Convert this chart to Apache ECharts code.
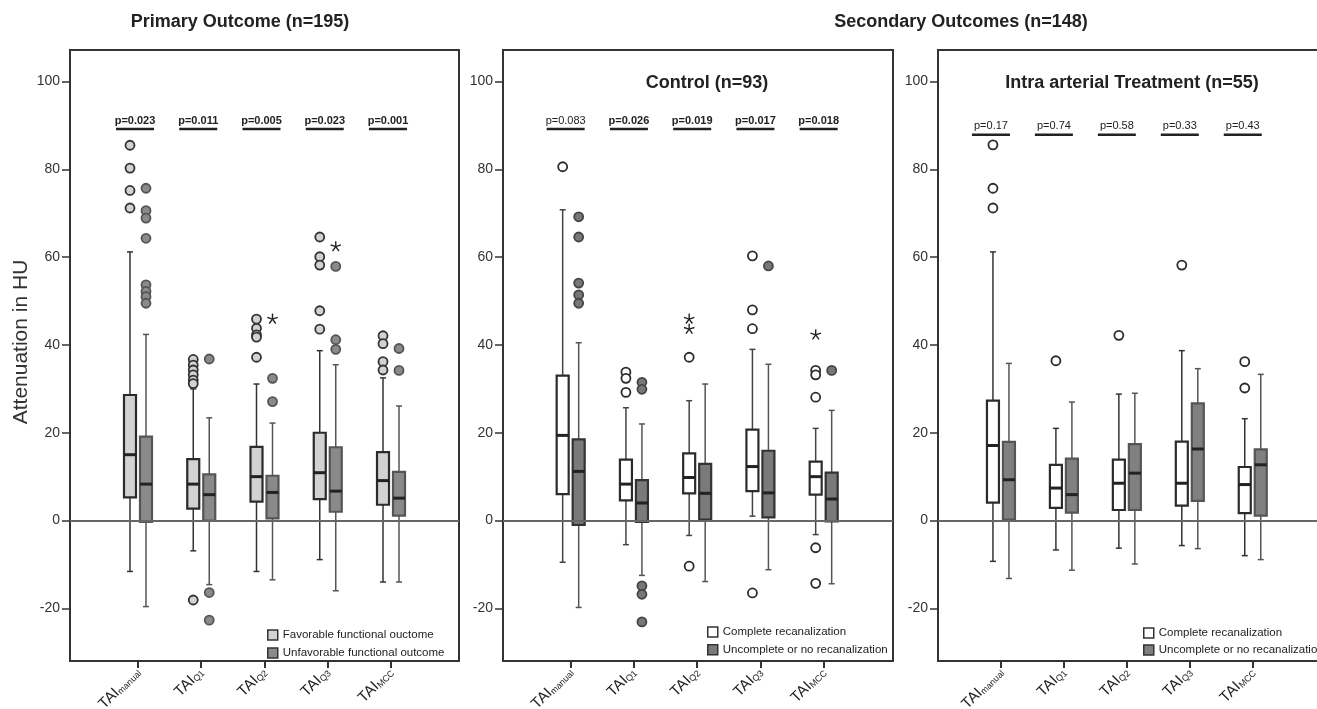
<!DOCTYPE html>
<html>
<head>
<meta charset="utf-8">
<title>TAI attenuation by outcome</title>
<script src="https://cdn.jsdelivr.net/npm/echarts@6/dist/echarts.min.js"></script>
<style>
  html, body { margin: 0; padding: 0; background: #fff; }
  #chart { width: 1317px; height: 709px; }
</style>
</head>
<body>
<div id="chart"></div>
<script>
const categories = ['manual', 'Q1', 'Q2', 'Q3', 'MCC'];
const yTicks = [-20, 0, 20, 40, 60, 80, 100];

// box rows: [lower whisker, Q1, median, Q3, upper whisker]
const primaryFavBox = [
  [-11.6, 5.3, 15.0, 28.6, 61.2],
  [-6.9, 2.7, 8.3, 14.0, 30.0],
  [-11.6, 4.3, 10.0, 16.8, 31.1],
  [-8.9, 4.9, 10.9, 20.0, 38.7],
  [-14.0, 3.6, 9.1, 15.6, 32.5]
];
const primaryUnfavBox = [
  [-19.6, -0.3, 8.3, 19.1, 42.4],
  [-14.6, 0.0, 5.9, 10.5, 23.4],
  [-13.5, 0.5, 6.4, 10.2, 22.2],
  [-16.0, 2.0, 6.7, 16.7, 35.5],
  [-14.0, 1.1, 5.1, 11.1, 26.1]
];
const primaryFavOutliers = [
  [85.5, 80.3, 75.2, 71.2],
  [36.7, 35.4, 34.3, 33.2, 32.0, 31.2, -18.1],
  [45.9, 43.8, 42.3, 41.8, 37.2],
  [64.6, 60.1, 58.2, 47.8, 43.6],
  [42.1, 40.3, 36.2, 34.3]
];
const primaryUnfavOutliers = [
  [75.7, 70.6, 68.9, 64.3, 53.7, 52.2, 51.0, 49.5],
  [36.8, -16.4, -22.7],
  [32.4, 27.1],
  [57.9, 41.2, 39.0],
  [39.2, 34.2]
];
const primaryFavExtremes = [[], [], [], [], []];
const primaryUnfavExtremes = [[], [], [45.9], [62.4], []];
const primaryP = [0.023, 0.011, 0.005, 0.023, 0.001];

const controlFavBox = [
  [-9.5, 6.0, 19.4, 33.0, 70.8],
  [-5.5, 4.6, 8.3, 13.9, 25.7],
  [-3.4, 6.2, 9.8, 15.3, 27.3],
  [1.0, 6.7, 12.3, 20.7, 39.0],
  [-3.2, 5.9, 10.0, 13.4, 21.0]
];
const controlUnfavBox = [
  [-19.8, -1.0, 11.2, 18.5, 40.5],
  [-12.5, -0.3, 4.0, 9.2, 22.0],
  [-13.9, 0.2, 6.2, 12.9, 31.1],
  [-11.2, 0.7, 6.3, 15.9, 35.6],
  [-14.4, -0.2, 4.9, 10.9, 25.1]
];
const controlFavOutliers = [
  [80.6],
  [33.8, 32.4, 29.2],
  [37.2, -10.4],
  [60.3, 48.0, 43.7, -16.5],
  [34.2, 33.2, 28.1, -6.2, -14.3]
];
const controlUnfavOutliers = [
  [69.2, 64.6, 54.1, 51.4, 49.5],
  [31.5, 29.9, -14.9, -16.8, -23.1],
  [],
  [58.0],
  [34.2]
];
const controlFavExtremes = [[], [], [45.9, 43.6], [], [42.3]];
const controlUnfavExtremes = [[], [], [], [], []];
const controlP = [0.083, 0.026, 0.019, 0.017, 0.018];

const iatFavBox = [
  [-9.3, 4.1, 17.1, 27.3, 61.2],
  [-6.7, 2.9, 7.4, 12.7, 21.0],
  [-6.3, 2.4, 8.5, 13.9, 28.8],
  [-5.7, 3.4, 8.5, 18.0, 38.7],
  [-8.0, 1.7, 8.2, 12.2, 23.2]
];
const iatUnfavBox = [
  [-13.2, 0.2, 9.3, 17.9, 35.8],
  [-11.3, 1.8, 5.9, 14.1, 27.0],
  [-9.9, 2.4, 10.8, 17.4, 29.0],
  [-6.4, 4.5, 16.3, 26.7, 34.6],
  [-8.9, 1.1, 12.7, 16.2, 33.3]
];
const iatFavOutliers = [[85.6, 75.7, 71.2], [36.4], [42.2], [58.2], [36.2, 30.2]];
const iatUnfavOutliers = [[], [], [], [], []];
const iatFavExtremes = [[], [], [], [], []];
const iatUnfavExtremes = [[], [], [], [], []];
const iatP = [0.17, 0.74, 0.58, 0.33, 0.43];

const baseFont = "'Liberation Sans', Arial, sans-serif";

const panels = [
  {
    fav: primaryFavBox, unfav: primaryUnfavBox,
    favOut: primaryFavOutliers, unfavOut: primaryUnfavOutliers,
    favExt: primaryFavExtremes, unfavExt: primaryUnfavExtremes,
    p: primaryP,
    names: ['Favorable functional ouctome', 'Unfavorable functional outcome'],
    favLook: { fill: '#d2d2d2', border: '#2b2b2b', whisker: '#333', out: '#d2d2d2', outBorder: '#333' },
    unfavLook: { fill: '#8a8a8a', border: '#555', whisker: '#555', out: '#8a8a8a', outBorder: '#555' },
    grid: { left: 70, top: 50, width: 389, height: 611 },
    xRange: [-0.075, 6.075],
    pLevel: 89.2, pShift: -3,
    legend: { left: 262, top: 624, itemGap: 6 }
  },
  {
    fav: controlFavBox, unfav: controlUnfavBox,
    favOut: controlFavOutliers, unfavOut: controlUnfavOutliers,
    favExt: controlFavExtremes, unfavExt: controlUnfavExtremes,
    p: controlP,
    names: ['Complete recanalization', 'Uncomplete or no recanalization'],
    favLook: { fill: '#fff', border: '#2b2b2b', whisker: '#444', out: '#fff', outBorder: '#2b2b2b' },
    unfavLook: { fill: '#7a7a7a', border: '#333', whisker: '#555', out: '#777', outBorder: '#444' },
    grid: { left: 503, top: 50, width: 390, height: 611 },
    xRange: [-0.07, 6.096],
    pLevel: 89.2, pShift: -5,
    legend: { left: 702, top: 621, itemGap: 5.7 }
  },
  {
    fav: iatFavBox, unfav: iatUnfavBox,
    favOut: iatFavOutliers, unfavOut: iatUnfavOutliers,
    favExt: iatFavExtremes, unfavExt: iatUnfavExtremes,
    p: iatP,
    names: ['Complete recanalization', 'Uncomplete or no recanalization'],
    favLook: { fill: '#fff', border: '#2b2b2b', whisker: '#333', out: '#fff', outBorder: '#2b2b2b' },
    unfavLook: { fill: '#808080', border: '#555', whisker: '#555', out: '#808080', outBorder: '#555' },
    grid: { left: 938, top: 50, width: 384, height: 611 },
    xRange: [0, 6.1],
    pLevel: 87.9, pShift: -10,
    legend: { left: 1138, top: 622, itemGap: 5 }
  }
];

function boxItem(side, look) {
  return function (params, api) {
    const x = api.value(0);
    const px = api.coord([x, 0])[0] + side * 8;
    const y = (i) => api.coord([x, api.value(i)])[1];
    const lo = y(1), q1 = y(2), med = y(3), q3 = y(4), hi = y(5);
    const thin = { stroke: look.whisker, lineWidth: 1.5 };
    return {
      type: 'group',
      children: [
        { type: 'line', shape: { x1: px, y1: hi, x2: px, y2: lo }, style: thin },
        { type: 'line', shape: { x1: px - 3, y1: hi, x2: px + 3, y2: hi }, style: thin },
        { type: 'line', shape: { x1: px - 3, y1: lo, x2: px + 3, y2: lo }, style: thin },
        {
          type: 'rect',
          shape: { x: px - 6, y: q3, width: 12, height: q1 - q3 },
          style: { fill: look.fill, stroke: look.border, lineWidth: 2.2 }
        },
        { type: 'line', shape: { x1: px - 6, y1: med, x2: px + 6, y2: med }, style: { stroke: '#222', lineWidth: 3 } }
      ]
    };
  };
}

function starItem(side) {
  return function (params, api) {
    const c = api.coord([api.value(0), api.value(1)]);
    const cx = c[0] + side * 8;
    const cy = c[1];
    const arms = [];
    for (let k = 0; k < 5; k++) {
      const a = -Math.PI / 2 + k * 2 * Math.PI / 5;
      arms.push({
        type: 'line',
        shape: { x1: cx, y1: cy, x2: cx + 5.5 * Math.cos(a), y2: cy + 5.5 * Math.sin(a) },
        style: { stroke: '#222', lineWidth: 1.4 }
      });
    }
    return { type: 'group', children: arms };
  };
}

function pItem(level, shift) {
  return function (params, api) {
    const p = api.value(1);
    const c = api.coord([api.value(0), level]);
    const cx = c[0] + shift;
    const cy = c[1];
    return {
      type: 'group',
      children: [
        {
          type: 'text',
          x: cx,
          y: cy - 3,
          style: {
            text: 'p=' + p,
            fontSize: 11,
            fontFamily: baseFont,
            fontWeight: p < 0.05 ? 'bold' : 'normal',
            fill: '#222',
            align: 'center',
            verticalAlign: 'bottom'
          }
        },
        { type: 'line', shape: { x1: cx - 19, y1: cy, x2: cx + 19, y2: cy }, style: { stroke: '#222', lineWidth: 2.5 } }
      ]
    };
  };
}

function points(lists) {
  const out = [];
  lists.forEach((vals, k) => vals.forEach((v) => out.push([k + 1, v])));
  return out;
}

const grids = [];
const xAxes = [];
const yAxes = [];
const legends = [];
const series = [];

panels.forEach((pn, i) => {
  grids.push(Object.assign({
    show: true,
    borderColor: '#333',
    borderWidth: 2,
    backgroundColor: 'transparent',
    containLabel: false,
    outerBoundsMode: 'none'
  }, pn.grid));
  xAxes.push({
    type: 'value',
    gridIndex: i,
    min: pn.xRange[0],
    max: pn.xRange[1],
    splitLine: { show: false },
    axisLine: { show: false, onZero: false },
    axisTick: { show: true, length: 7, customValues: [1, 2, 3, 4, 5], lineStyle: { color: '#333', width: 2 } },
    axisLabel: {
      customValues: [1, 2, 3, 4, 5],
      rotate: 45,
      margin: 9,
      formatter: (v) => '{a|TAI}{b|' + categories[Math.round(v) - 1] + '}',
      rich: {
        a: { fontSize: 15, color: '#222', verticalAlign: 'bottom' },
        b: { fontSize: 9, color: '#222', verticalAlign: 'bottom' }
      }
    }
  });
  yAxes.push({
    type: 'value',
    gridIndex: i,
    min: -32,
    max: 107.2,
    splitLine: { show: false },
    axisLine: { show: false, onZero: false },
    axisTick: { show: true, length: 8, customValues: yTicks, lineStyle: { color: '#333', width: 1.5 } },
    axisLabel: { customValues: yTicks, fontSize: 14, color: '#333', margin: 10 }
  });
  legends.push({
    orient: 'vertical',
    left: pn.legend.left,
    top: pn.legend.top,
    itemGap: pn.legend.itemGap,
    itemWidth: 10,
    itemHeight: 10,
    selectedMode: false,
    textStyle: { fontSize: 11.5, color: '#222' },
    data: [
      { name: pn.names[0], icon: 'rect', itemStyle: { color: pn.favLook.fill, borderColor: '#333', borderWidth: 1.5 } },
      { name: pn.names[1], icon: 'rect', itemStyle: { color: pn.unfavLook.fill, borderColor: '#333', borderWidth: 1.5 } }
    ]
  });

  series.push({
    type: 'custom',
    xAxisIndex: i,
    yAxisIndex: i,
    z: 2,
    silent: true,
    renderItem: pItem(pn.pLevel, pn.pShift),
    data: pn.p.map((v, k) => [k + 1, v]),
    markLine: {
      silent: true,
      symbol: 'none',
      label: { show: false },
      lineStyle: { color: '#666', width: 2, type: 'solid' },
      data: [{ yAxis: 0 }]
    }
  });

  [[pn.fav, pn.favOut, pn.favExt, pn.favLook, -1, pn.names[0]],
   [pn.unfav, pn.unfavOut, pn.unfavExt, pn.unfavLook, 1, pn.names[1]]].forEach(([box, outl, ext, look, side, name]) => {
    series.push({
      name: name,
      type: 'custom',
      xAxisIndex: i,
      yAxisIndex: i,
      z: 3,
      silent: true,
      itemStyle: { color: look.fill },
      renderItem: boxItem(side, look),
      data: box.map((b, k) => [k + 1].concat(b))
    });
    series.push({
      type: 'scatter',
      xAxisIndex: i,
      yAxisIndex: i,
      z: 4,
      silent: true,
      symbol: 'circle',
      symbolSize: 9,
      symbolOffset: [side * 8, 0],
      itemStyle: { color: look.out, borderColor: look.outBorder, borderWidth: 1.8, opacity: 1 },
      data: points(outl)
    });
    series.push({
      type: 'custom',
      xAxisIndex: i,
      yAxisIndex: i,
      z: 4,
      silent: true,
      renderItem: starItem(side),
      data: points(ext)
    });
  });
});

const chart = echarts.init(document.getElementById('chart'));
chart.setOption({
  animation: false,
  backgroundColor: '#fff',
  textStyle: { fontFamily: baseFont },
  grid: grids,
  xAxis: xAxes,
  yAxis: yAxes,
  legend: legends,
  graphic: [
    { type: 'text', x: 240, y: 22, style: { text: 'Primary Outcome (n=195)', fontSize: 18, fontWeight: 'bold', fill: '#222', align: 'center', verticalAlign: 'middle', fontFamily: baseFont } },
    { type: 'text', x: 961, y: 22, style: { text: 'Secondary Outcomes (n=148)', fontSize: 18, fontWeight: 'bold', fill: '#222', align: 'center', verticalAlign: 'middle', fontFamily: baseFont } },
    { type: 'text', x: 707, y: 83, style: { text: 'Control (n=93)', fontSize: 18, fontWeight: 'bold', fill: '#222', align: 'center', verticalAlign: 'middle', fontFamily: baseFont } },
    { type: 'text', x: 1132, y: 83, style: { text: 'Intra arterial Treatment (n=55)', fontSize: 18, fontWeight: 'bold', fill: '#222', align: 'center', verticalAlign: 'middle', fontFamily: baseFont } },
    { type: 'text', x: 21, y: 342, rotation: Math.PI / 2, style: { text: 'Attenuation in HU', fontSize: 21, fill: '#333', align: 'center', verticalAlign: 'middle', fontFamily: baseFont } }
  ],
  series: series
});
</script>
</body>
</html>
